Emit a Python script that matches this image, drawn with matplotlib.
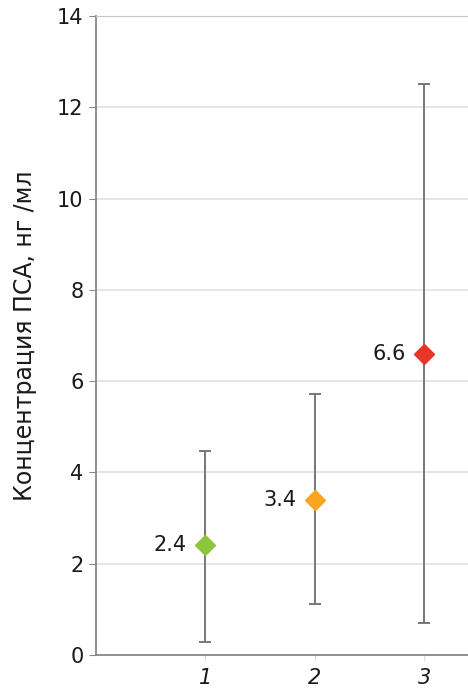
import numpy as np
import matplotlib
matplotlib.use("Agg")
import matplotlib.pyplot as plt

# --- data ---
groups = [1, 2, 3]
group_labels = ["1", "2", "3"]
means = [2.4, 3.4, 6.6]
upper = [4.48, 5.72, 12.5]
lower = [0.29, 1.12, 0.71]
colors = ["#8cc63e", "#f8a51f", "#e8352a"]
yticks = [0, 2, 4, 6, 8, 10, 12, 14]

plt.rcParams["font.family"] = ["DejaVu Sans"]

fig = plt.figure(figsize=(4.68, 6.9), dpi=100)
ax = fig.add_axes([0.205, 0.0507, 0.795, 0.9261])

for x, m, hi, lo, c in zip(groups, means, upper, lower, colors):
    ax.errorbar(x, m, yerr=[[m - lo], [hi - m]], fmt="none",
                ecolor="#777777", elinewidth=1.4, capsize=4, capthick=1.4, zorder=2)
    ax.plot(x, m, marker="D", markersize=10.5, color=c, markeredgecolor=c,
            linestyle="none", zorder=3)
    ax.text(x - 0.17, m, f"{m:.1f}", ha="right", va="center", fontsize=15,
            color="#1a1a1a")

ax.set_xlim(0, 3.4)
ax.set_ylim(0, 14)
ax.set_yticks(yticks)
ax.set_yticklabels([str(t) for t in yticks], fontsize=15, color="#1a1a1a")
ax.set_xticks(groups)
ax.set_xticklabels(group_labels, fontsize=15, style="italic", color="#1a1a1a")
ax.tick_params(axis="y", length=5, color="#888888", pad=4)
ax.tick_params(axis="x", length=4, color="#dddddd", pad=5)
ax.grid(axis="y", color="#e2e2e2", linewidth=1.2, zorder=0)
ax.set_axisbelow(True)
ax.spines["right"].set_visible(False)
ax.spines["top"].set_color("#c8c8c8")
for s in ["left", "bottom"]:
    ax.spines[s].set_color("#888888")
    ax.spines[s].set_linewidth(1.3)
ax.set_ylabel("Концентрация ПСА, нг /мл", fontsize=17, color="#1a1a1a", labelpad=14)

fig.savefig("out.png", dpi=100, facecolor="white")
